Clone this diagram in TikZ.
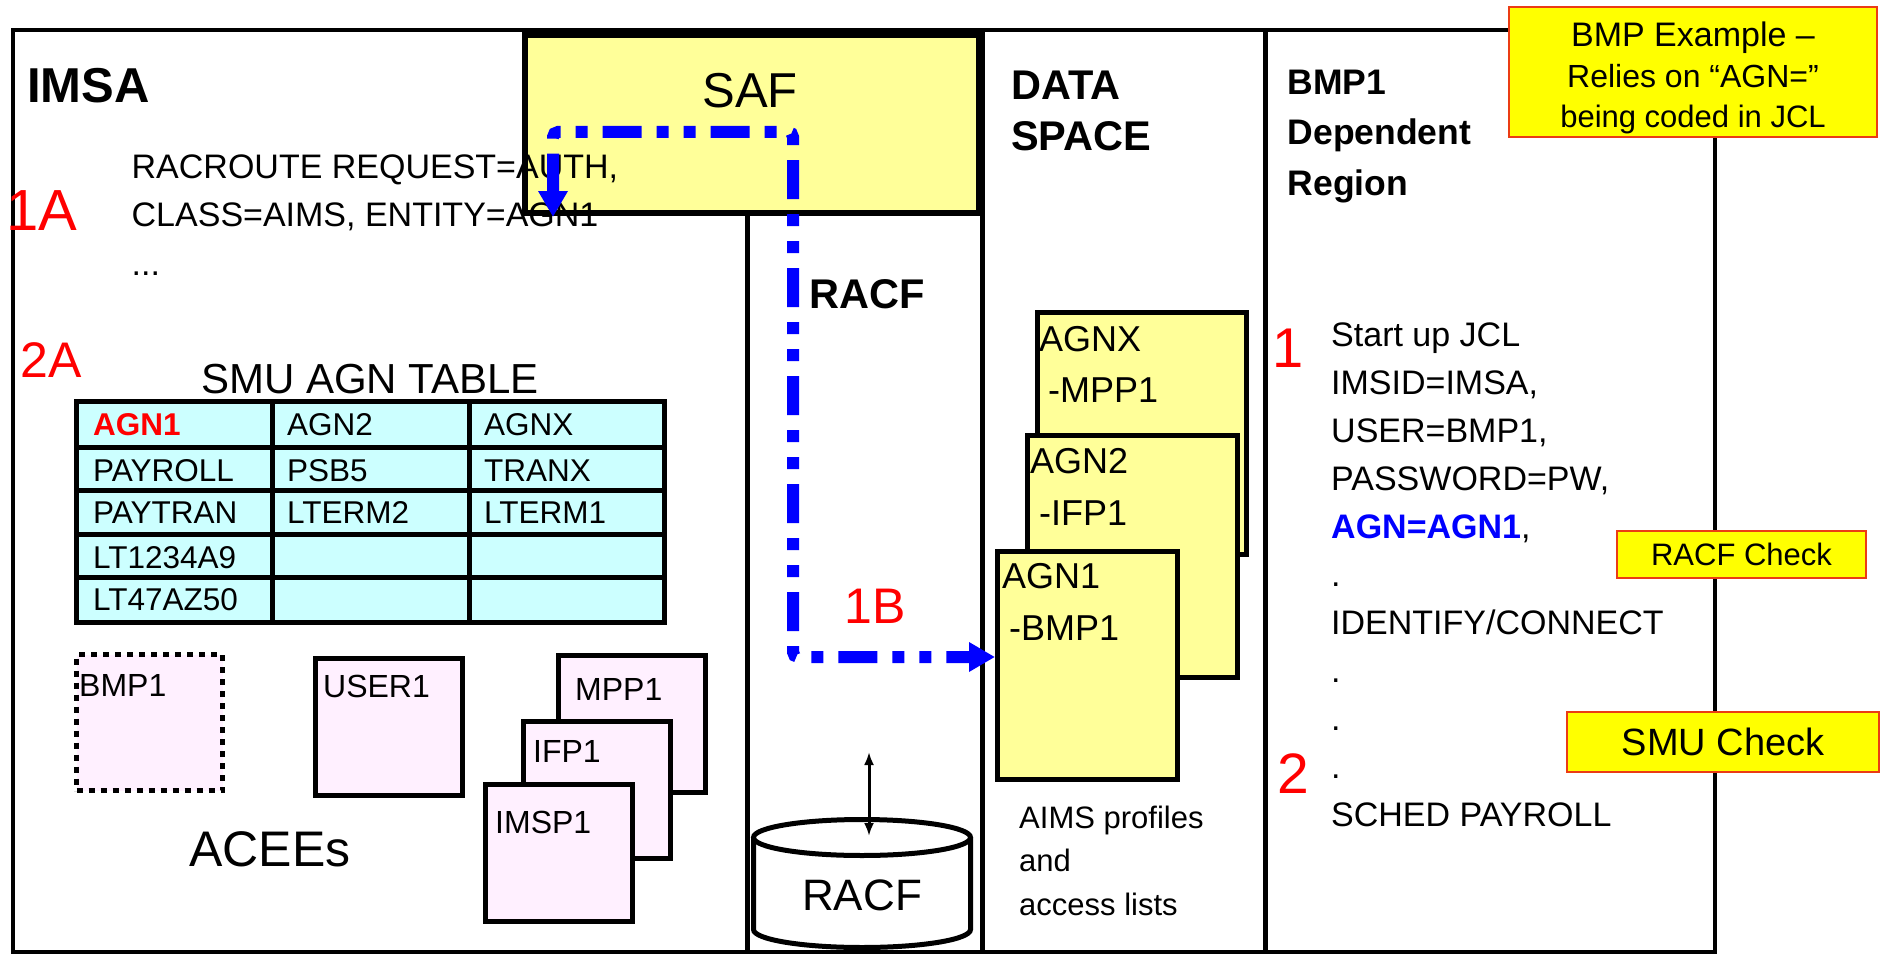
\documentclass[tikz,border=0pt]{standalone}
\usepackage{fontspec}
\setmainfont{Liberation Sans}
\usepackage{xcolor}
\usetikzlibrary{arrows.meta, positioning}

\definecolor{safyellow}{RGB}{255,255,153}
\definecolor{cellcyan}{RGB}{204,255,255}
\definecolor{aceepink}{RGB}{255,240,255}
\definecolor{noteyellow}{RGB}{255,255,0}
\definecolor{noteedge}{RGB}{235,60,20}
\definecolor{flowblue}{RGB}{0,0,255}
\definecolor{stepred}{RGB}{255,0,0}

\newcommand{\setfs}[2]{\fontsize{#1}{#2}\selectfont}

\begin{document}
\begin{tikzpicture}[
        x=1pt, y=1pt,
        frame/.style={draw=black, line width=4.5pt},
        divider/.style={draw=black, line width=5pt},
        safbox/.style={rectangle, draw=black, fill=safyellow, line width=6pt, anchor=north west},
        heading/.style={font=\bfseries\setfs{41.5}{51}, inner sep=0pt, anchor=base west, align=left},
        code/.style={font=\setfs{34}{48.5}, inner sep=0pt, anchor=base west, align=left},
        steplbl/.style={text=stepred, inner sep=0pt, anchor=base west},
        tablegrid/.style={draw=black, line width=5pt},
        cell/.style={font=\setfs{31.5}{31.5}, inner sep=0pt, anchor=base west},
        acee/.style={rectangle, draw=black, fill=aceepink, line width=5pt, anchor=north west,
            minimum width=147pt, minimum height=137pt},
        aceetext/.style={font=\setfs{32}{32}, inner sep=0pt, anchor=base west},
        dsbox/.style={rectangle, draw=black, fill=safyellow, line width=5pt, anchor=north west},
        dstext/.style={font=\setfs{36}{36}, inner sep=0pt, anchor=base west},
        note/.style={rectangle, draw=noteedge, fill=noteyellow, line width=2pt},
        flow/.style={draw=flowblue, line width=12pt, rounded corners=5pt,
            dash pattern=on 39pt off 15pt on 12pt off 15pt on 12pt off 15pt,
            {Triangle[length=26pt, width=28pt]}-{Triangle[length=26pt, width=28pt]}},
        dbline/.style={draw=black, line width=5pt},
        dbarrow/.style={draw=black, line width=3pt, {Latex[length=13pt, width=10pt]}-{Latex[length=13pt, width=10pt]}}
    ]

    \useasboundingbox (0,0) rectangle (1882,-955);
    \fill[white] (0,0) rectangle (1882,-955);

    % Frame and columns
    \draw[frame] (13,-30) rectangle (1715,-952);
    \draw[divider] (982,-30) -- (982,-952);
    \draw[divider] (1265,-30) -- (1265,-952);
    \node[safbox, minimum width=454pt, minimum height=178pt] (saf) at (522,-32) {};
    \draw[divider] (747,-213) -- (747,-952);
    \node[font=\setfs{49}{49}, inner sep=0pt, anchor=base] (saflbl) at (750,-108) {SAF};

    % IMSA
    \node[heading, font=\bfseries\setfs{49}{49}] (imsa) at (27,-103) {IMSA};
    \node[code] (racroute) at (131.5,-275) {RACROUTE REQUEST=AUTH,\\CLASS=AIMS, ENTITY=AGN1\\...};
    \node[steplbl, font=\setfs{58}{58}] (step1a) at (6,-230) {1A};
    \node[steplbl, font=\setfs{50}{50}] (step2a) at (20,-377) {2A};

    % SMU AGN table
    \node[font=\setfs{42}{42}, inner sep=0pt, anchor=base] (tabletitle) at (370,-393) {SMU AGN TABLE};
    \fill[cellcyan] (76.5,-401) rectangle (664.5,-622);
    \draw[tablegrid] (76.5,-401) rectangle (664.5,-622);
    \draw[tablegrid] (272,-401) -- (272,-622);
    \draw[tablegrid] (469,-401) -- (469,-622);
    \draw[tablegrid] (76.5,-447.5) -- (664.5,-447.5);
    \draw[tablegrid] (76.5,-490.5) -- (664.5,-490.5);
    \draw[tablegrid] (76.5,-534) -- (664.5,-534);
    \draw[tablegrid] (76.5,-577.5) -- (664.5,-577.5);
    \node[cell, text=stepred, font=\bfseries\setfs{31.5}{31.5}] (c11) at (93,-435) {AGN1};
    \node[cell] (c12) at (287,-435) {AGN2};
    \node[cell] (c13) at (484,-435) {AGNX};
    \node[cell] (c21) at (93,-481) {PAYROLL};
    \node[cell] (c22) at (287,-481) {PSB5};
    \node[cell] (c23) at (484,-481) {TRANX};
    \node[cell] (c31) at (93,-523) {PAYTRAN};
    \node[cell] (c32) at (287,-523) {LTERM2};
    \node[cell] (c33) at (484,-523) {LTERM1};
    \node[cell] (c41) at (93,-568) {LT1234A9};
    \node[cell] (c51) at (93,-610) {LT47AZ50};

    % ACEEs
    \node[acee, dash pattern=on 6pt off 6pt, minimum width=146pt, minimum height=136pt] (bmp1acee) at (74,-652) {};
    \node[aceetext] at (79,-696) {BMP1};
    \node[acee] (user1acee) at (313,-656) {};
    \node[aceetext] at (323,-697) {USER1};
    \node[acee] (mpp1acee) at (556,-653) {};
    \node[aceetext] at (575,-700) {MPP1};
    \node[acee] (ifp1acee) at (521,-719) {};
    \node[aceetext] at (533,-762) {IFP1};
    \node[acee] (imsp1acee) at (483,-782) {};
    \node[aceetext] at (495,-833) {IMSP1};
    \node[font=\setfs{50}{50}, inner sep=0pt, anchor=base west] (acees) at (189,-866) {ACEEs};

    % RACF
    \node[heading] (racflbl) at (809,-308) {RACF};
    \filldraw[dbline, fill=white] (753.5,-837.5) -- (753.5,-929.5)
        arc[start angle=180, end angle=360, x radius=108.5, y radius=18] -- (970.5,-837.5);
    \draw[dbline] (862,-837.5) ellipse [x radius=108.5, y radius=18];
    \node[font=\setfs{44}{44}, inner sep=0pt, anchor=base] (racfdb) at (862,-910) {RACF};
    \coordinate (dbreq) at (869,-752);
    \coordinate (dbtop) at (869,-836);
    \draw[dbarrow] (dbreq) -- (dbtop);
    \node[steplbl, font=\setfs{50}{50}] (step1b) at (844.5,-623) {1B};

    % Data space
    \node[heading] (dataspace) at (1011,-150) {DATA\\SPACE};
    \node[dsbox, minimum width=209pt, minimum height=242pt] (agnx) at (1035,-310) {};
    \node[dstext] at (1039,-351) {AGNX};
    \node[dstext] at (1048,-402) {-MPP1};
    \node[dsbox, minimum width=210pt, minimum height=242pt] (agn2) at (1025,-433) {};
    \node[dstext] at (1030,-473) {AGN2};
    \node[dstext] at (1039,-525) {-IFP1};
    \node[dsbox, minimum width=180pt, minimum height=228pt] (agn1) at (995,-549) {};
    \node[dstext] at (1002,-588) {AGN1};
    \node[dstext] at (1009,-640) {-BMP1};
    \node[font=\setfs{31}{43.5}, inner sep=0pt, anchor=base west, align=left] (aimsnote) at (1019,-915)
        {AIMS profiles\\and\\access lists};

    % BMP1 dependent region
    \node[heading, font=\bfseries\setfs{35.5}{50.5}] (bmp1region) at (1287.5,-195) {BMP1\\Dependent\\Region};
    \node[code, font=\setfs{34}{48}] (jcl) at (1331,-826) {Start up JCL\\IMSID=IMSA,\\USER=BMP1,\\PASSWORD=PW,\\
        \textcolor{flowblue}{\bfseries AGN=AGN1},\\.\\IDENTIFY/CONNECT\\.\\.\\.\\SCHED PAYROLL};
    \node[steplbl, font=\setfs{56}{56}] (step1) at (1272,-367) {1};
    \node[steplbl, font=\setfs{57}{57}] (step2) at (1277,-793) {2};

    % Call flow
    \coordinate (callpt) at (553,-217);
    \coordinate (safturn) at (793,-132);
    \draw[flow] (callpt) |- (safturn) |- ([yshift=8.5pt]agn1.west);

    % Notes
    \node[note, minimum width=368pt, minimum height=130pt, anchor=north west] (bmpnote) at (1508,-6) {};
    \node[font=\setfs{31}{40.5}, inner sep=0pt, anchor=base, align=center] (bmpnotetext) at (1693,-128)
        {{\setfs{34}{40.5}BMP Example –}\\{\setfs{32}{40.5}Relies on “AGN=”}\\being coded in JCL};
    \node[note, font=\setfs{31}{31}, minimum width=249pt, minimum height=47pt] (racfcheck) at (1741.5,-554.5) {RACF Check};
    \node[note, font=\setfs{38}{38}, minimum width=312pt, minimum height=60pt] (smucheck) at (1723,-742) {SMU Check};

\end{tikzpicture}
\end{document}
